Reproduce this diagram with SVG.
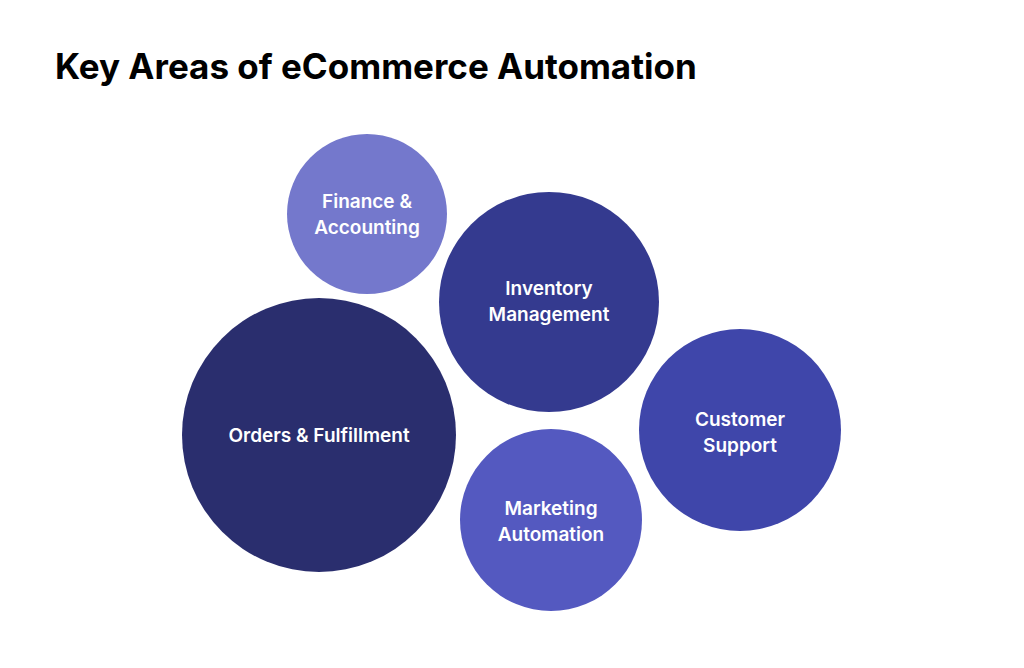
<svg xmlns="http://www.w3.org/2000/svg" width="1024" height="668" viewBox="0 0 1024 668">
<style>
.t{font-family:Inter,"Liberation Sans",sans-serif;font-weight:600;font-size:19px;fill:#fff;text-anchor:middle}
.h{font-family:Inter,"Liberation Sans",sans-serif;font-weight:700;font-size:35px;fill:#000}
</style>
<rect width="1024" height="668" fill="#fff"/>
<text class="h" x="55" y="79">Key Areas of eCommerce Automation</text>
<g id="connectors"></g>
<g id="finance"><circle cx="367" cy="214" r="80" fill="#7478cc"/><text class="t" x="367" y="208">Finance &amp;</text><text class="t" x="367" y="234">Accounting</text></g>
<g id="inventory"><circle cx="549" cy="302" r="110" fill="#343a8f"/><text class="t" x="549" y="295">Inventory</text><text class="t" x="549" y="321">Management</text></g>
<g id="orders"><circle cx="319" cy="435" r="137" fill="#2a2e6e"/><text class="t" x="319" y="442">Orders &amp; Fulfillment</text></g>
<g id="customer"><circle cx="740" cy="430" r="101" fill="#3f46aa"/><text class="t" x="740" y="426">Customer</text><text class="t" x="740" y="452">Support</text></g>
<g id="marketing"><circle cx="551" cy="520" r="91" fill="#5459c0"/><text class="t" x="551" y="515">Marketing</text><text class="t" x="551" y="541">Automation</text></g>
</svg>
